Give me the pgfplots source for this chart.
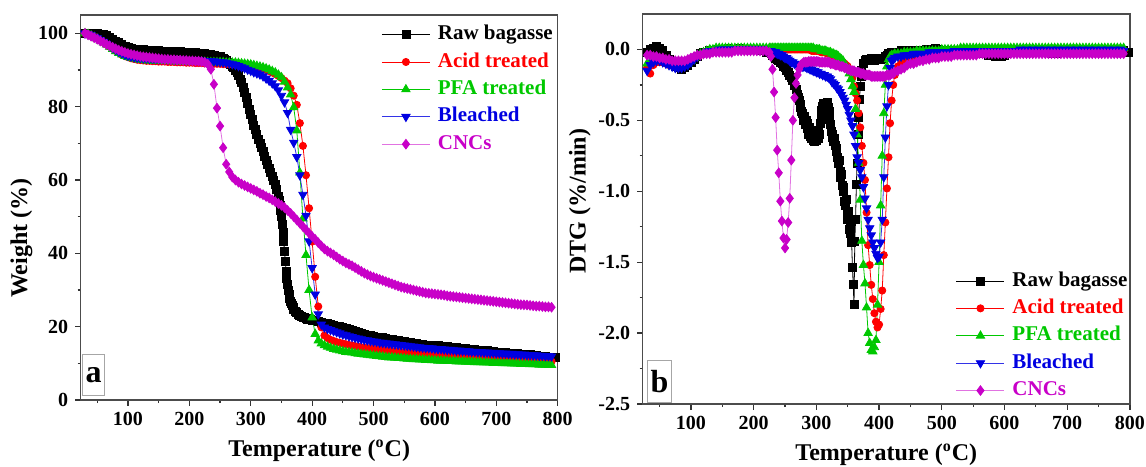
\documentclass[border=0pt]{standalone}
\usepackage{fontspec}
\setmainfont{Liberation Serif}
\usepackage{pgfplots}
\pgfplotsset{compat=1.18}
\usepackage{pgfplotstable}

\definecolor{cRed}{RGB}{255,0,0}
\definecolor{cGreen}{RGB}{0,200,0}
\definecolor{cBlue}{RGB}{0,0,225}
\definecolor{cMag}{RGB}{200,0,200}

% TGA, raw bagasse: weight (%) vs temperature (denser through the main drop)
\pgfplotstableread{
T w
30 100.0
35 100.0
40 100.0
45 100.0
50 99.9
55 99.8
60 99.6
65 99.3
70 98.9
75 98.4
80 97.9
85 97.4
90 96.9
95 96.5
100 96.2
105 95.9
110 95.7
115 95.6
120 95.5
125 95.5
130 95.4
135 95.4
140 95.3
145 95.3
150 95.3
155 95.2
160 95.2
165 95.2
170 95.1
175 95.1
180 95.0
185 95.0
190 94.9
195 94.9
200 94.8
205 94.8
210 94.7
215 94.6
220 94.5
225 94.4
230 94.3
235 94.2
240 94.0
245 93.8
250 93.6
255 93.1
257.5 92.8
260 92.5
262.5 92.2
265 91.8
267.5 91.5
270 91.1
272.5 90.6
275 90.0
277.5 89.3
280 88.4
282.5 87.5
285 86.5
287.5 85.3
290 84.0
292.5 82.5
295 80.9
297.5 79.3
300 77.8
302.5 76.4
305 75.0
307.5 73.7
310 72.4
312.5 71.2
315 70.0
317.5 68.8
320 67.7
322.5 66.5
325 65.4
327.5 64.3
330 63.2
332.5 62.1
335 61.0
337.5 59.9
340 58.8
342.5 57.3
345 55.5
346.25 54.4
347.5 53.1
348.75 51.7
350 50.0
351.25 48.0
352.5 45.8
353.75 43.2
355 40.5
356.25 37.8
357.5 35.2
358.75 33.2
360 31.5
361.25 30.0
362.5 28.8
363.75 27.8
365 27.0
366.25 26.3
367.5 25.7
368.75 25.2
370 24.8
372.5 24.2
375 23.8
377.5 23.4
380 23.1
382.5 22.8
385 22.6
387.5 22.4
390 22.3
392.5 22.1
395 22.0
397.5 21.9
400 21.8
405 21.6
410 21.4
415 21.2
420 21.0
425 20.8
430 20.6
435 20.4
440 20.2
445 20.0
450 19.8
455 19.6
460 19.3
465 19.0
470 18.7
475 18.4
480 18.1
485 17.9
490 17.7
495 17.5
500 17.3
505 17.2
510 17.1
515 17.0
520 16.8
525 16.6
530 16.5
535 16.3
540 16.2
545 16.1
550 16.0
555 15.8
560 15.6
565 15.5
570 15.3
575 15.2
580 15.1
585 15.0
590 15.0
595 14.9
600 14.9
605 14.8
610 14.7
615 14.6
620 14.5
625 14.4
630 14.3
635 14.3
640 14.2
645 14.1
650 14.0
655 13.9
660 13.8
665 13.7
670 13.6
675 13.5
680 13.5
685 13.4
690 13.3
695 13.2
700 13.1
705 13.0
710 12.9
715 12.9
720 12.8
725 12.7
730 12.7
735 12.6
740 12.5
745 12.4
750 12.3
755 12.3
760 12.2
765 12.1
770 12.0
775 11.9
780 11.8
785 11.7
790 11.6
797 11.5
}\tgaraw

% TGA, treated samples and CNCs
\pgfplotstableread{
T acid pfa bl cnc
30 100.0 100.0 100.0 100.0
35 99.8 99.8 99.8 99.6
40 99.5 99.4 99.5 99.2
45 99.1 99.0 99.1 98.8
50 98.6 98.5 98.7 98.4
55 98.1 98.0 98.2 97.9
60 97.6 97.5 97.7 97.5
65 97.0 96.9 97.2 97.0
70 96.4 96.3 96.6 96.6
75 95.8 95.7 96.0 96.2
80 95.2 95.1 95.5 95.8
85 94.7 94.6 95.0 95.4
90 94.2 94.2 94.6 95.1
95 93.8 93.8 94.2 94.8
100 93.5 93.5 93.9 94.5
105 93.2 93.3 93.7 94.3
110 93.0 93.1 93.5 94.1
115 92.8 92.9 93.4 93.9
120 92.7 92.8 93.3 93.7
125 92.6 92.7 93.2 93.6
130 92.5 92.6 93.2 93.5
135 92.5 92.6 93.1 93.4
140 92.4 92.5 93.1 93.3
145 92.4 92.5 93.0 93.2
150 92.3 92.5 93.0 93.1
155 92.3 92.4 93.0 93.0
160 92.3 92.4 92.9 92.9
165 92.2 92.4 92.9 92.9
170 92.2 92.4 92.9 92.8
175 92.2 92.3 92.8 92.8
180 92.1 92.3 92.8 92.7
185 92.1 92.3 92.8 92.7
190 92.1 92.3 92.8 92.6
195 92.0 92.3 92.7 92.6
200 92.0 92.2 92.7 92.5
205 92.0 92.2 92.7 92.5
210 91.9 92.2 92.6 92.4
215 91.9 92.2 92.6 92.4
220 91.9 92.2 92.6 92.3
225 91.8 92.2 92.5 92.1
230 91.8 92.1 92.5 91.6
235 91.8 92.1 92.4 90.2
240 91.7 92.1 92.4 86.1
245 91.7 92.1 92.3 79.6
250 91.7 92.1 92.2 74.7
255 91.6 92.1 92.1 68.8
260 91.6 92.0 92.0 64.3
265 91.6 92.0 91.8 62.2
270 91.5 92.0 91.6 60.8
275 91.5 92.0 91.4 60.0
280 91.4 91.9 91.1 59.4
285 91.3 91.8 90.8 58.9
290 91.2 91.7 90.5 58.5
295 91.1 91.6 90.1 58.1
300 91.0 91.5 89.8 57.7
305 90.9 91.3 89.4 57.3
310 90.7 91.1 89.1 56.9
315 90.5 90.9 88.8 56.4
320 90.3 90.7 88.3 56.0
325 90.0 90.4 87.7 55.5
330 89.7 90.1 87.1 55.1
335 89.3 89.7 86.4 54.6
340 88.9 89.3 85.6 54.1
345 88.4 88.7 84.5 53.6
350 87.8 88.0 83.0 53.1
355 87.1 86.8 81.2 52.5
360 86.4 85.2 78.3 51.7
365 85.0 83.3 73.7 50.9
370 83.0 79.8 70.2 50.0
375 80.5 73.5 66.3 49.1
380 75.5 62.0 61.3 48.2
385 69.3 49.5 56.0 47.3
390 61.3 39.5 50.3 46.4
395 52.3 30.0 43.3 45.5
400 43.2 22.5 36.0 44.6
405 33.6 18.0 28.8 43.8
410 25.5 16.2 23.4 42.9
415 19.8 15.4 20.6 42.0
420 17.6 14.9 19.8 41.2
425 16.9 14.5 19.4 40.6
430 16.4 14.2 19.1 40.1
435 16.1 13.9 18.8 39.6
440 15.8 13.7 18.5 39.0
445 15.6 13.5 18.2 38.4
450 15.4 13.3 17.9 37.9
455 15.2 13.1 17.7 37.4
460 15.0 13.0 17.4 37.0
465 14.9 12.9 17.2 36.6
470 14.7 12.7 17.0 36.1
475 14.6 12.6 16.8 35.6
480 14.4 12.5 16.6 35.1
485 14.3 12.4 16.4 34.6
490 14.2 12.3 16.3 34.2
495 14.1 12.2 16.1 33.8
500 14.0 12.1 16.0 33.5
505 13.9 12.0 15.9 33.2
510 13.8 11.9 15.7 32.9
515 13.7 11.8 15.6 32.6
520 13.6 11.7 15.5 32.3
525 13.5 11.6 15.4 32.0
530 13.4 11.6 15.3 31.7
535 13.3 11.5 15.2 31.4
540 13.2 11.4 15.1 31.1
545 13.1 11.4 15.0 30.8
550 13.0 11.3 14.9 30.6
555 12.9 11.2 14.8 30.4
560 12.8 11.2 14.7 30.2
565 12.7 11.1 14.6 30.0
570 12.6 11.1 14.5 29.8
575 12.5 11.0 14.4 29.6
580 12.4 11.0 14.3 29.4
585 12.4 10.9 14.2 29.2
590 12.3 10.9 14.2 29.1
595 12.3 10.8 14.1 29.0
600 12.2 10.8 14.0 28.9
605 12.1 10.7 13.9 28.8
610 12.1 10.7 13.9 28.7
615 12.0 10.7 13.8 28.6
620 12.0 10.6 13.7 28.4
625 11.9 10.6 13.7 28.3
630 11.9 10.6 13.6 28.2
635 11.8 10.5 13.5 28.1
640 11.8 10.5 13.5 28.0
645 11.7 10.5 13.4 27.9
650 11.7 10.4 13.4 27.8
655 11.6 10.4 13.3 27.7
660 11.6 10.4 13.2 27.6
665 11.5 10.3 13.2 27.5
670 11.5 10.3 13.1 27.4
675 11.4 10.3 13.1 27.3
680 11.4 10.2 13.0 27.2
685 11.3 10.2 13.0 27.1
690 11.3 10.2 12.9 27.0
695 11.2 10.1 12.9 26.9
700 11.2 10.1 12.8 26.8
705 11.1 10.1 12.8 26.7
710 11.1 10.0 12.7 26.6
715 11.0 10.0 12.7 26.5
720 11.0 10.0 12.6 26.4
725 11.0 9.9 12.6 26.3
730 10.9 9.9 12.5 26.2
735 10.9 9.9 12.5 26.1
740 10.9 9.8 12.4 26.0
745 10.8 9.8 12.4 25.95
750 10.8 9.8 12.3 25.9
755 10.8 9.7 12.3 25.8
760 10.7 9.7 12.2 25.7
765 10.7 9.7 12.2 25.6
770 10.7 9.6 12.1 25.6
775 10.6 9.6 12.1 25.5
780 10.6 9.6 12.0 25.4
785 10.6 9.5 12.0 25.4
790 10.5 9.5 11.9 25.3
}\tga

% DTG, raw bagasse (%/min), noisy and dense through 270-372 C
\pgfplotstableread{
T d
30 -0.02
35 0.00
40 0.01
45 0.02
50 0.01
55 -0.01
60 -0.04
65 -0.07
70 -0.10
75 -0.12
80 -0.13
85 -0.14
90 -0.13
95 -0.11
100 -0.09
105 -0.07
110 -0.05
115 -0.03
120 -0.02
125 -0.02
130 -0.01
135 -0.01
140 0.00
145 0.00
150 0.00
155 0.00
160 0.01
165 0.00
170 0.00
175 0.01
180 0.00
185 0.00
190 0.00
195 0.00
200 0.00
205 0.00
210 -0.01
215 -0.01
220 -0.02
225 -0.02
227.5 -0.03
230 -0.04
232.5 -0.05
235 -0.06
237.5 -0.07
240 -0.08
242.5 -0.09
245 -0.10
247.5 -0.12
250 -0.13
252.5 -0.15
255 -0.16
257.5 -0.18
260 -0.20
262.5 -0.22
265 -0.25
267.5 -0.28
270 -0.32
271.25 -0.34
272.5 -0.36
273.75 -0.39
275 -0.41
276.25 -0.44
277.5 -0.45
278.75 -0.49
280 -0.50
281.25 -0.47
282.5 -0.53
283.75 -0.50
285 -0.56
286.25 -0.52
287.5 -0.60
288.75 -0.55
290 -0.61
291.25 -0.57
292.5 -0.63
293.75 -0.58
295 -0.64
296.25 -0.59
297.5 -0.65
298.75 -0.60
300 -0.64
301.25 -0.58
302.5 -0.63
303.75 -0.57
305 -0.60
306.25 -0.52
307.5 -0.48
308.75 -0.43
310 -0.40
311.25 -0.38
312.5 -0.42
313.75 -0.39
315 -0.45
316.25 -0.40
317.5 -0.37
318.75 -0.41
320 -0.44
321.25 -0.49
322.5 -0.53
323.75 -0.58
325 -0.62
326.25 -0.60
327.5 -0.65
328.75 -0.63
330 -0.68
331.25 -0.72
332.5 -0.70
333.75 -0.76
335 -0.80
336.25 -0.78
337.5 -0.86
338.75 -0.90
340 -0.88
341.25 -0.96
342.5 -1.00
343.75 -0.97
345 -1.07
346.25 -1.10
347.5 -1.06
348.75 -1.16
350 -1.20
351.25 -1.14
352.5 -1.27
353.75 -1.30
355 -1.24
356.25 -1.36
357.5 -1.54
358.75 -1.66
360 -1.80
361.25 -1.35
362.5 -1.20
363.75 -0.95
365 -0.80
366.25 -0.60
367.5 -0.48
368.75 -0.35
370 -0.26
371.25 -0.19
372.5 -0.15
375 -0.10
377.5 -0.08
380 -0.07
382.5 -0.08
385 -0.07
387.5 -0.06
390 -0.07
392.5 -0.08
395 -0.07
397.5 -0.06
400 -0.07
402.5 -0.07
405 -0.06
407.5 -0.06
410 -0.05
412.5 -0.04
415 -0.03
417.5 -0.03
420 -0.02
422.5 -0.02
425 -0.02
430 -0.02
435 -0.01
440 -0.02
445 -0.01
450 -0.02
455 -0.01
460 -0.02
465 -0.01
470 -0.01
475 0.00
480 -0.01
485 0.00
490 0.01
495 0.00
500 -0.01
505 -0.01
510 -0.02
515 -0.01
520 -0.01
525 -0.02
530 -0.01
535 -0.02
540 -0.01
545 0.00
550 -0.01
555 -0.02
560 -0.02
565 -0.03
570 -0.03
575 -0.04
580 -0.04
585 -0.05
590 -0.04
595 -0.05
600 -0.04
605 -0.03
610 -0.02
615 -0.01
620 -0.02
625 -0.01
630 -0.02
635 -0.01
640 -0.01
645 -0.02
650 -0.01
655 -0.02
660 -0.01
665 -0.01
670 -0.02
675 -0.03
680 -0.02
685 -0.03
690 -0.02
695 -0.02
700 -0.01
705 -0.02
710 -0.01
715 -0.02
720 -0.01
725 -0.02
730 -0.01
735 -0.02
740 -0.01
745 -0.02
750 -0.01
755 -0.02
760 -0.01
765 -0.02
770 -0.01
775 -0.02
780 -0.01
785 -0.02
790 -0.01
797 -0.02
}\dtgraw

% DTG, treated samples and CNCs
\pgfplotstableread{
T acid pfa bl cnc
30 -0.13 -0.10 -0.15 -0.04
35 -0.17 -0.09 -0.11 -0.04
40 -0.11 -0.08 -0.09 -0.05
45 -0.09 -0.08 -0.08 -0.05
50 -0.09 -0.08 -0.08 -0.06
55 -0.09 -0.08 -0.09 -0.06
60 -0.10 -0.09 -0.10 -0.07
65 -0.11 -0.10 -0.11 -0.07
70 -0.11 -0.11 -0.12 -0.08
75 -0.12 -0.11 -0.13 -0.08
80 -0.12 -0.12 -0.13 -0.08
85 -0.12 -0.12 -0.13 -0.08
90 -0.11 -0.11 -0.12 -0.08
95 -0.10 -0.10 -0.11 -0.07
100 -0.08 -0.08 -0.09 -0.06
105 -0.06 -0.06 -0.07 -0.05
110 -0.05 -0.04 -0.05 -0.04
115 -0.04 -0.03 -0.04 -0.04
120 -0.03 -0.02 -0.03 -0.03
125 -0.02 -0.01 -0.02 -0.03
130 -0.02 0.00 -0.01 -0.03
135 -0.01 0.00 -0.01 -0.02
140 -0.01 0.01 -0.01 -0.02
145 -0.01 0.01 0.00 -0.02
150 -0.01 0.01 0.00 -0.02
155 0.00 0.01 0.00 -0.02
160 0.00 0.01 0.00 -0.02
165 0.00 0.01 0.00 -0.02
170 0.00 0.01 0.00 -0.01
175 0.00 0.01 0.00 -0.01
180 0.00 0.01 0.00 -0.01
185 0.00 0.01 0.00 -0.01
190 0.00 0.01 0.00 -0.01
195 0.00 0.01 0.00 -0.01
200 0.00 0.01 0.00 -0.01
205 0.00 0.01 0.00 -0.01
210 0.00 0.01 0.00 -0.01
215 0.00 0.01 0.00 -0.01
220 0.00 0.01 -0.01 -0.01
225 0.00 0.01 -0.01 -0.02
227.5 0.00 0.01 -0.01 -0.05
230 0.00 0.01 -0.02 -0.14
232.5 0.00 0.01 -0.02 -0.30
235 0.00 0.01 -0.02 -0.48
237.5 0.00 0.01 -0.03 -0.71
240 0.00 0.01 -0.03 -0.87
242.5 0.00 0.01 -0.04 -1.07
245 0.00 0.01 -0.04 -1.21
247.5 0.00 0.01 -0.05 -1.33
250 0.00 0.01 -0.06 -1.40
252.5 0.00 0.01 -0.06 -1.34
255 0.00 0.01 -0.07 -1.22
257.5 0.00 0.01 -0.08 -1.05
260 0.00 0.01 -0.09 -0.78
262.5 0.00 0.01 -0.09 -0.50
265 0.00 0.01 -0.10 -0.34
267.5 0.00 0.01 -0.10 -0.24
270 0.00 0.01 -0.11 -0.18
272.5 0.00 0.01 -0.11 -0.14
275 0.00 0.01 -0.11 -0.11
277.5 0.00 0.01 -0.12 -0.10
280 0.00 0.01 -0.12 -0.09
282.5 0.00 0.01 -0.12 -0.09
285 0.00 0.01 -0.13 -0.09
287.5 0.00 0.01 -0.13 -0.085
290 0.00 0.01 -0.14 -0.085
292.5 -0.01 0.01 -0.14 -0.085
295 -0.01 0.01 -0.15 -0.085
297.5 -0.01 0.00 -0.15 -0.085
300 -0.01 0.00 -0.16 -0.085
302.5 -0.01 0.00 -0.16 -0.085
305 -0.01 0.00 -0.17 -0.09
307.5 -0.02 -0.01 -0.17 -0.09
310 -0.02 -0.01 -0.18 -0.09
312.5 -0.02 -0.01 -0.18 -0.09
315 -0.02 -0.01 -0.19 -0.09
317.5 -0.03 -0.02 -0.19 -0.09
320 -0.03 -0.02 -0.20 -0.09
322.5 -0.03 -0.02 -0.21 -0.10
325 -0.04 -0.03 -0.23 -0.10
327.5 -0.04 -0.03 -0.24 -0.10
330 -0.05 -0.04 -0.25 -0.11
332.5 -0.05 -0.04 -0.27 -0.11
335 -0.06 -0.05 -0.28 -0.11
337.5 -0.07 -0.06 -0.30 -0.12
340 -0.08 -0.07 -0.32 -0.12
342.5 -0.09 -0.08 -0.34 -0.12
345 -0.10 -0.10 -0.36 -0.13
347.5 -0.11 -0.12 -0.39 -0.13
350 -0.12 -0.14 -0.42 -0.14
352.5 -0.14 -0.17 -0.46 -0.14
355 -0.16 -0.21 -0.50 -0.15
357.5 -0.20 -0.26 -0.54 -0.15
360 -0.26 -0.30 -0.60 -0.15
362.5 -0.31 -0.42 -0.68 -0.16
365 -0.36 -0.60 -0.76 -0.16
367.5 -0.45 -0.80 -0.80 -0.16
370 -0.55 -1.06 -0.85 -0.17
372.5 -0.68 -1.35 -0.90 -0.17
375 -0.80 -1.52 -0.97 -0.17
377.5 -0.92 -1.65 -1.05 -0.18
380 -1.15 -1.82 -1.12 -0.18
382.5 -1.38 -2.00 -1.20 -0.18
385 -1.52 -2.07 -1.26 -0.18
387.5 -1.66 -2.12 -1.31 -0.19
390 -1.76 -2.13 -1.36 -0.19
392.5 -1.86 -2.10 -1.40 -0.19
395 -1.92 -2.05 -1.44 -0.19
397.5 -1.96 -1.80 -1.47 -0.19
400 -1.94 -1.50 -1.46 -0.19
402.5 -1.83 -1.10 -1.36 -0.19
405 -1.70 -0.75 -1.20 -0.19
407.5 -1.45 -0.45 -0.90 -0.19
410 -1.22 -0.25 -0.62 -0.19
412.5 -0.98 -0.12 -0.40 -0.18
415 -0.76 -0.07 -0.25 -0.18
417.5 -0.52 -0.05 -0.13 -0.18
420 -0.36 -0.04 -0.08 -0.17
422.5 -0.25 -0.04 -0.07 -0.17
425 -0.18 -0.03 -0.06 -0.16
430 -0.12 -0.03 -0.05 -0.15
435 -0.10 -0.03 -0.05 -0.14
440 -0.08 -0.02 -0.04 -0.13
445 -0.07 -0.02 -0.04 -0.11
450 -0.06 -0.02 -0.04 -0.10
455 -0.06 -0.02 -0.03 -0.10
460 -0.05 -0.01 -0.03 -0.09
465 -0.05 -0.01 -0.03 -0.08
470 -0.04 -0.01 -0.03 -0.08
475 -0.04 -0.01 -0.03 -0.07
480 -0.04 -0.01 -0.02 -0.07
485 -0.04 -0.01 -0.02 -0.06
490 -0.03 -0.01 -0.02 -0.06
495 -0.03 -0.01 -0.02 -0.06
500 -0.03 0.00 -0.02 -0.05
505 -0.03 0.00 -0.02 -0.05
510 -0.03 0.00 -0.02 -0.05
515 -0.03 0.00 -0.02 -0.05
520 -0.02 0.00 -0.01 -0.04
525 -0.02 0.00 -0.01 -0.04
530 -0.02 0.01 -0.01 -0.04
535 -0.02 0.01 -0.01 -0.04
540 -0.02 0.01 -0.01 -0.04
545 -0.02 0.01 -0.01 -0.04
550 -0.02 0.01 -0.01 -0.04
555 -0.02 0.01 -0.01 -0.04
560 -0.02 0.01 -0.01 -0.03
565 -0.02 0.01 -0.01 -0.03
570 -0.02 0.01 -0.01 -0.03
575 -0.02 0.01 -0.01 -0.03
580 -0.02 0.01 -0.01 -0.03
585 -0.02 0.01 -0.01 -0.03
590 -0.02 0.01 -0.01 -0.03
595 -0.02 0.01 -0.01 -0.03
600 -0.02 0.01 -0.01 -0.03
605 -0.02 0.01 -0.01 -0.03
610 -0.01 0.01 -0.01 -0.03
615 -0.01 0.01 -0.01 -0.03
620 -0.01 0.01 -0.01 -0.03
625 -0.01 0.01 0.00 -0.03
630 -0.01 0.01 -0.01 -0.03
635 -0.01 0.01 0.00 -0.03
640 -0.01 0.01 -0.01 -0.03
645 -0.01 0.01 0.00 -0.03
650 -0.01 0.01 -0.01 -0.03
655 -0.01 0.01 0.00 -0.03
660 -0.01 0.01 -0.01 -0.03
665 -0.01 0.01 0.00 -0.03
670 -0.01 0.01 -0.01 -0.03
675 -0.01 0.01 0.00 -0.03
680 -0.01 0.01 -0.01 -0.03
685 -0.01 0.01 0.00 -0.03
690 -0.01 0.01 -0.01 -0.03
695 -0.01 0.01 0.00 -0.03
700 -0.01 0.01 -0.01 -0.03
705 -0.01 0.01 0.00 -0.03
710 -0.01 0.01 -0.01 -0.03
715 -0.01 0.01 0.00 -0.03
720 -0.01 0.01 -0.01 -0.03
725 -0.01 0.01 0.00 -0.03
730 -0.01 0.01 -0.01 -0.03
735 -0.01 0.01 0.00 -0.03
740 -0.01 0.01 -0.01 -0.03
745 -0.01 0.01 0.00 -0.03
750 -0.01 0.01 -0.01 -0.03
755 -0.01 0.01 0.00 -0.03
760 -0.01 0.01 -0.01 -0.03
765 -0.01 0.01 0.00 -0.03
770 -0.01 0.01 -0.01 -0.03
775 -0.01 0.01 0.00 -0.03
780 -0.01 0.01 -0.01 -0.03
785 -0.01 0.01 0.00 -0.03
790 -0.01 0.01 -0.01 -0.03
}\dtg

\pgfplotsset{
  panel/.style={
    scale only axis, anchor=south west,
    xmin=23, xmax=800,
    xtick={100,200,...,800}, minor xtick={50,150,...,750},
    tick align=outside, tick pos=left,
    major tick length=2.8pt, minor tick length=1.6pt,
    axis line style={black!70, line width=0.6pt},
    every tick/.style={black!80, line width=0.6pt},
    tick label style={font=\bfseries\fontsize{10}{12}\selectfont},
    label style={font=\bfseries\fontsize{12}{14}\selectfont},
    /pgf/number format/assume math mode=true,
    xlabel={Temperature (\textsuperscript{o}C)},
    legend cell align=left,
    legend image code/.code={\draw[mark repeat=2,mark phase=2,#1] plot coordinates {(0pt,0pt) (12pt,0pt) (24pt,0pt)};},
    legend style={draw=none, fill=none, inner sep=0pt, row sep=2.6pt, column sep=3pt,
      nodes={inner sep=0.8pt, text height=7.3pt, text depth=2.2pt,
             font=\bfseries\fontsize{10.5}{12}\selectfont}},
  },
  sRaw/.style={black, line width=0.4pt, mark=square*, mark size=2pt, mark options={solid, fill=black}},
  sAcid/.style={cRed, line width=0.4pt, mark=*, mark size=1.8pt, mark options={solid, fill=cRed}},
  sPfa/.style={cGreen, line width=0.4pt, mark=triangle*, mark size=2.4pt, mark options={solid, fill=cGreen}},
  sBl/.style={cBlue!80, line width=0.4pt, mark=triangle*, mark size=2.4pt, mark options={solid, draw=cBlue, fill=cBlue, rotate=180}},
  sCnc/.style={cMag!55, line width=0.4pt, mark=diamond*, mark size=2.4pt, mark options={solid, draw=cMag, fill=cMag}},
}

\begin{document}
\begin{tikzpicture}
\useasboundingbox (0,0) rectangle (573pt,233pt);

\begin{axis}[panel,
  at={(40.35pt,33pt)}, width=238.5pt, height=192.5pt,
  ymin=0, ymax=105,
  ytick={0,20,...,100}, minor ytick={10,30,...,90},
  ylabel={Weight (\%)},
  ylabel style={at={(ticklabel cs:0.42)}},
  ylabel shift=-4pt,
  legend style={at={(rel axis cs:0.994,0.979)}, anchor=north east},
]
\addplot[sRaw] table[x=T, y=w] {\tgaraw};
\addlegendentry{\textcolor{black}{Raw bagasse}}
\addplot[sAcid] table[x=T, y=acid] {\tga};
\addlegendentry{\textcolor{cRed}{Acid treated}}
\addplot[sPfa] table[x=T, y=pfa] {\tga};
\addlegendentry{\textcolor{cGreen}{PFA treated}}
\addplot[sBl] table[x=T, y=bl] {\tga};
\addlegendentry{\textcolor{cBlue}{Bleached}}
\addplot[sCnc] table[x=T, y=cnc] {\tga};
\addlegendentry{\textcolor{cMag}{CNCs}}
\node[draw=black!35, fill=white, inner sep=0pt, minimum width=11pt, minimum height=20.5pt,
  anchor=south west, font=\bfseries\fontsize{16}{16}\selectfont] at (rel axis cs:0.003,0.01) {a};
\end{axis}

\begin{axis}[panel,
  at={(321.35pt,31pt)}, width=243.6pt, height=195pt,
  ymin=-2.5, ymax=0.25,
  ytick={-2.5,-2,-1.5,-1,-0.5,0}, yticklabels={-2.5,-2.0,-1.5,-1.0,-0.5,0.0},
  minor ytick={-2.25,-1.75,-1.25,-0.75,-0.25},
  ylabel={DTG (\%/min)},
  ylabel style={at={(ticklabel cs:0.52)}},
  ylabel shift=-3pt,
  legend style={at={(rel axis cs:0.999,0.005)}, anchor=south east},
]
\addplot[sRaw] table[x=T, y=d] {\dtgraw};
\addlegendentry{\textcolor{black}{Raw bagasse}}
\addplot[sAcid] table[x=T, y=acid] {\dtg};
\addlegendentry{\textcolor{cRed}{Acid treated}}
\addplot[sPfa] table[x=T, y=pfa] {\dtg};
\addlegendentry{\textcolor{cGreen}{PFA treated}}
\addplot[sBl] table[x=T, y=bl] {\dtg};
\addlegendentry{\textcolor{cBlue}{Bleached}}
\addplot[sCnc] table[x=T, y=cnc] {\dtg};
\addlegendentry{\textcolor{cMag}{CNCs}}
\node[draw=black!35, fill=white, inner sep=0pt, minimum width=12pt, minimum height=21pt,
  anchor=south west, font=\bfseries\fontsize{16}{16}\selectfont] at (rel axis cs:0.009,0.003) {b};
\end{axis}
\end{tikzpicture}
\end{document}
